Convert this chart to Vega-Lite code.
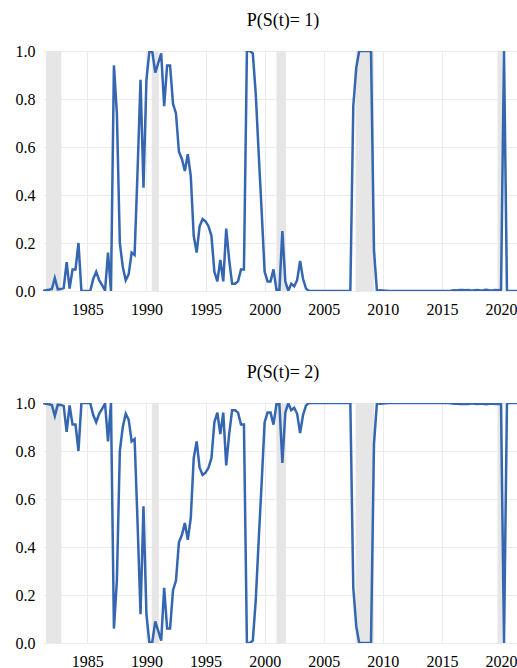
{
  "$schema": "https://vega.github.io/schema/vega-lite/v6.json",
  "padding": {"left": 15, "top": 12, "right": 0, "bottom": 0},
  "config": {
    "font": "Liberation Serif",
    "view": {"stroke": null},
    "axis": {"labelFont": "Liberation Serif", "labelFontSize": 16, "labelColor": "#000", "domain": false, "ticks": false, "gridColor": "#ebebeb", "gridWidth": 1, "title": null, "labelPadding": 8},
    "axisX": {"labelFont": "Liberation Serif", "labelPadding": 10},
    "axisY": {"labelFont": "Liberation Serif"},
    "title": {"font": "Liberation Serif", "fontSize": 18, "fontWeight": "normal", "color": "#000", "offset": 13}
  },
  "datasets": {
    "bands": [
      {"start": 1981.5, "end": 1982.8},
      {"start": 1990.45, "end": 1991.05},
      {"start": 2001.0, "end": 2001.8},
      {"start": 2007.7, "end": 2009.25},
      {"start": 2019.7, "end": 2020.1}
    ],
    "probs": [
      {"t": 1981.25, "p1": 0.0, "p2": 1.0},
      {"t": 1981.5, "p1": 0.003, "p2": 0.997},
      {"t": 1981.75, "p1": 0.005, "p2": 0.995},
      {"t": 1982.0, "p1": 0.008, "p2": 0.992},
      {"t": 1982.25, "p1": 0.054, "p2": 0.946},
      {"t": 1982.5, "p1": 0.007, "p2": 0.993},
      {"t": 1982.75, "p1": 0.008, "p2": 0.992},
      {"t": 1983.0, "p1": 0.012, "p2": 0.988},
      {"t": 1983.25, "p1": 0.12, "p2": 0.88},
      {"t": 1983.5, "p1": 0.01, "p2": 0.99},
      {"t": 1983.75, "p1": 0.09, "p2": 0.91},
      {"t": 1984.0, "p1": 0.09, "p2": 0.91},
      {"t": 1984.25, "p1": 0.2, "p2": 0.8},
      {"t": 1984.5, "p1": 0.0, "p2": 1.0},
      {"t": 1984.75, "p1": 0.0, "p2": 1.0},
      {"t": 1985.0, "p1": 0.0, "p2": 1.0},
      {"t": 1985.25, "p1": 0.001, "p2": 0.999},
      {"t": 1985.5, "p1": 0.05, "p2": 0.95},
      {"t": 1985.75, "p1": 0.08, "p2": 0.92},
      {"t": 1986.0, "p1": 0.045, "p2": 0.955},
      {"t": 1986.25, "p1": 0.025, "p2": 0.975},
      {"t": 1986.5, "p1": 0.002, "p2": 0.998},
      {"t": 1986.75, "p1": 0.16, "p2": 0.84},
      {"t": 1987.0, "p1": 0.0, "p2": 1.0},
      {"t": 1987.25, "p1": 0.94, "p2": 0.06},
      {"t": 1987.5, "p1": 0.74, "p2": 0.26},
      {"t": 1987.75, "p1": 0.2, "p2": 0.8},
      {"t": 1988.0, "p1": 0.1, "p2": 0.9},
      {"t": 1988.25, "p1": 0.045, "p2": 0.955},
      {"t": 1988.5, "p1": 0.07, "p2": 0.93},
      {"t": 1988.75, "p1": 0.16, "p2": 0.84},
      {"t": 1989.0, "p1": 0.15, "p2": 0.85},
      {"t": 1989.25, "p1": 0.5, "p2": 0.5},
      {"t": 1989.5, "p1": 0.88, "p2": 0.12},
      {"t": 1989.75, "p1": 0.43, "p2": 0.57},
      {"t": 1990.0, "p1": 0.88, "p2": 0.12},
      {"t": 1990.25, "p1": 1.0, "p2": 0.0},
      {"t": 1990.5, "p1": 0.995, "p2": 0.005},
      {"t": 1990.75, "p1": 0.91, "p2": 0.09},
      {"t": 1991.0, "p1": 0.95, "p2": 0.05},
      {"t": 1991.25, "p1": 0.99, "p2": 0.01},
      {"t": 1991.5, "p1": 0.77, "p2": 0.23},
      {"t": 1991.75, "p1": 0.94, "p2": 0.06},
      {"t": 1992.0, "p1": 0.94, "p2": 0.06},
      {"t": 1992.25, "p1": 0.78, "p2": 0.22},
      {"t": 1992.5, "p1": 0.74, "p2": 0.26},
      {"t": 1992.75, "p1": 0.58, "p2": 0.42},
      {"t": 1993.0, "p1": 0.55, "p2": 0.45},
      {"t": 1993.25, "p1": 0.5, "p2": 0.5},
      {"t": 1993.5, "p1": 0.57, "p2": 0.43},
      {"t": 1993.75, "p1": 0.48, "p2": 0.52},
      {"t": 1994.0, "p1": 0.23, "p2": 0.77},
      {"t": 1994.25, "p1": 0.16, "p2": 0.84},
      {"t": 1994.5, "p1": 0.27, "p2": 0.73},
      {"t": 1994.75, "p1": 0.3, "p2": 0.7},
      {"t": 1995.0, "p1": 0.29, "p2": 0.71},
      {"t": 1995.25, "p1": 0.27, "p2": 0.73},
      {"t": 1995.5, "p1": 0.23, "p2": 0.77},
      {"t": 1995.75, "p1": 0.08, "p2": 0.92},
      {"t": 1996.0, "p1": 0.04, "p2": 0.96},
      {"t": 1996.25, "p1": 0.13, "p2": 0.87},
      {"t": 1996.5, "p1": 0.04, "p2": 0.96},
      {"t": 1996.75, "p1": 0.26, "p2": 0.74},
      {"t": 1997.0, "p1": 0.13, "p2": 0.87},
      {"t": 1997.25, "p1": 0.03, "p2": 0.97},
      {"t": 1997.5, "p1": 0.03, "p2": 0.97},
      {"t": 1997.75, "p1": 0.04, "p2": 0.96},
      {"t": 1998.0, "p1": 0.09, "p2": 0.91},
      {"t": 1998.25, "p1": 0.09, "p2": 0.91},
      {"t": 1998.5, "p1": 1.0, "p2": 0.0},
      {"t": 1998.75, "p1": 1.0, "p2": 0.0},
      {"t": 1999.0, "p1": 0.99, "p2": 0.01},
      {"t": 1999.25, "p1": 0.82, "p2": 0.18},
      {"t": 1999.5, "p1": 0.57, "p2": 0.43},
      {"t": 1999.75, "p1": 0.33, "p2": 0.67},
      {"t": 2000.0, "p1": 0.08, "p2": 0.92},
      {"t": 2000.25, "p1": 0.04, "p2": 0.96},
      {"t": 2000.5, "p1": 0.04, "p2": 0.96},
      {"t": 2000.75, "p1": 0.09, "p2": 0.91},
      {"t": 2001.0, "p1": 0.005, "p2": 0.995},
      {"t": 2001.25, "p1": 0.005, "p2": 0.995},
      {"t": 2001.5, "p1": 0.25, "p2": 0.75},
      {"t": 2001.75, "p1": 0.04, "p2": 0.96},
      {"t": 2002.0, "p1": 0.0, "p2": 1.0},
      {"t": 2002.25, "p1": 0.03, "p2": 0.97},
      {"t": 2002.5, "p1": 0.02, "p2": 0.98},
      {"t": 2002.75, "p1": 0.045, "p2": 0.955},
      {"t": 2003.0, "p1": 0.125, "p2": 0.875},
      {"t": 2003.25, "p1": 0.05, "p2": 0.95},
      {"t": 2003.5, "p1": 0.01, "p2": 0.99},
      {"t": 2003.75, "p1": 0.0, "p2": 1.0},
      {"t": 2004.0, "p1": 0.0, "p2": 1.0},
      {"t": 2004.25, "p1": 0.0, "p2": 1.0},
      {"t": 2004.5, "p1": 0.0, "p2": 1.0},
      {"t": 2004.75, "p1": 0.0, "p2": 1.0},
      {"t": 2005.0, "p1": 0.0, "p2": 1.0},
      {"t": 2005.25, "p1": 0.0, "p2": 1.0},
      {"t": 2005.5, "p1": 0.0, "p2": 1.0},
      {"t": 2005.75, "p1": 0.0, "p2": 1.0},
      {"t": 2006.0, "p1": 0.0, "p2": 1.0},
      {"t": 2006.25, "p1": 0.0, "p2": 1.0},
      {"t": 2006.5, "p1": 0.0, "p2": 1.0},
      {"t": 2006.75, "p1": 0.0, "p2": 1.0},
      {"t": 2007.0, "p1": 0.0, "p2": 1.0},
      {"t": 2007.25, "p1": 0.0, "p2": 1.0},
      {"t": 2007.5, "p1": 0.77, "p2": 0.23},
      {"t": 2007.75, "p1": 0.93, "p2": 0.07},
      {"t": 2008.0, "p1": 1.0, "p2": 0.0},
      {"t": 2008.25, "p1": 1.0, "p2": 0.0},
      {"t": 2008.5, "p1": 1.0, "p2": 0.0},
      {"t": 2008.75, "p1": 1.0, "p2": 0.0},
      {"t": 2009.0, "p1": 1.0, "p2": 0.0},
      {"t": 2009.25, "p1": 0.17, "p2": 0.83},
      {"t": 2009.5, "p1": 0.0, "p2": 1.0},
      {"t": 2009.75, "p1": 0.003, "p2": 0.997},
      {"t": 2010.0, "p1": 0.002, "p2": 0.998},
      {"t": 2010.25, "p1": 0.001, "p2": 0.999},
      {"t": 2010.5, "p1": 0.0, "p2": 1.0},
      {"t": 2010.75, "p1": 0.0, "p2": 1.0},
      {"t": 2011.0, "p1": 0.0, "p2": 1.0},
      {"t": 2011.25, "p1": 0.0, "p2": 1.0},
      {"t": 2011.5, "p1": 0.0, "p2": 1.0},
      {"t": 2011.75, "p1": 0.0, "p2": 1.0},
      {"t": 2012.0, "p1": 0.0, "p2": 1.0},
      {"t": 2012.25, "p1": 0.0, "p2": 1.0},
      {"t": 2012.5, "p1": 0.0, "p2": 1.0},
      {"t": 2012.75, "p1": 0.0, "p2": 1.0},
      {"t": 2013.0, "p1": 0.0, "p2": 1.0},
      {"t": 2013.25, "p1": 0.0, "p2": 1.0},
      {"t": 2013.5, "p1": 0.0, "p2": 1.0},
      {"t": 2013.75, "p1": 0.0, "p2": 1.0},
      {"t": 2014.0, "p1": 0.0, "p2": 1.0},
      {"t": 2014.25, "p1": 0.0, "p2": 1.0},
      {"t": 2014.5, "p1": 0.0, "p2": 1.0},
      {"t": 2014.75, "p1": 0.0, "p2": 1.0},
      {"t": 2015.0, "p1": 0.0, "p2": 1.0},
      {"t": 2015.25, "p1": 0.0, "p2": 1.0},
      {"t": 2015.5, "p1": 0.0, "p2": 1.0},
      {"t": 2015.75, "p1": 0.001, "p2": 0.999},
      {"t": 2016.0, "p1": 0.003, "p2": 0.997},
      {"t": 2016.25, "p1": 0.002, "p2": 0.998},
      {"t": 2016.5, "p1": 0.004, "p2": 0.996},
      {"t": 2016.75, "p1": 0.004, "p2": 0.996},
      {"t": 2017.0, "p1": 0.003, "p2": 0.997},
      {"t": 2017.25, "p1": 0.004, "p2": 0.996},
      {"t": 2017.5, "p1": 0.001, "p2": 0.999},
      {"t": 2017.75, "p1": 0.003, "p2": 0.997},
      {"t": 2018.0, "p1": 0.004, "p2": 0.996},
      {"t": 2018.25, "p1": 0.002, "p2": 0.998},
      {"t": 2018.5, "p1": 0.003, "p2": 0.997},
      {"t": 2018.75, "p1": 0.005, "p2": 0.995},
      {"t": 2019.0, "p1": 0.003, "p2": 0.997},
      {"t": 2019.25, "p1": 0.002, "p2": 0.998},
      {"t": 2019.5, "p1": 0.004, "p2": 0.996},
      {"t": 2019.75, "p1": 0.003, "p2": 0.997},
      {"t": 2020.0, "p1": 0.005, "p2": 0.995},
      {"t": 2020.25, "p1": 1.0, "p2": 0.0},
      {"t": 2020.5, "p1": 0.0, "p2": 1.0},
      {"t": 2020.75, "p1": 0.0, "p2": 1.0},
      {"t": 2021.0, "p1": 0.0, "p2": 1.0},
      {"t": 2021.25, "p1": 0.0, "p2": 1.0},
      {"t": 2021.5, "p1": 0.0, "p2": 1.0}
    ]
  },
  "spacing": 47,
  "vconcat": [
    {
      "width": 474,
      "height": 240,
      "title": {"text": "P(S(t)= 1)", "dx": 3},
      "layer": [
        {
          "data": {"name": "bands"},
          "mark": {"type": "rect", "color": "#e6e6e6"},
          "encoding": {
            "x": {"field": "start", "type": "quantitative", "scale": {"domain": [1981.25, 2021.35], "nice": false, "zero": false}, "axis": {"values": [1985, 1990, 1995, 2000, 2005, 2010, 2015, 2020], "format": "d", "grid": true, "labelFont": "Liberation Serif"}},
            "x2": {"field": "end"}
          }
        },
        {
          "data": {"name": "probs"},
          "mark": {"type": "line", "color": "#3566b0", "strokeWidth": 2.5, "clip": true},
          "encoding": {
            "x": {"field": "t", "type": "quantitative"},
            "y": {"field": "p1", "type": "quantitative", "scale": {"domain": [0, 1], "nice": false}, "axis": {"values": [0, 0.2, 0.4, 0.6, 0.8, 1.0], "format": ".1f", "grid": true, "labelFont": "Liberation Serif"}}
          }
        }
      ]
    },
    {
      "width": 474,
      "height": 240,
      "title": {"text": "P(S(t)= 2)", "dx": 3},
      "layer": [
        {
          "data": {"name": "bands"},
          "mark": {"type": "rect", "color": "#e6e6e6"},
          "encoding": {
            "x": {"field": "start", "type": "quantitative", "scale": {"domain": [1981.25, 2021.35], "nice": false, "zero": false}, "axis": {"values": [1985, 1990, 1995, 2000, 2005, 2010, 2015, 2020], "format": "d", "grid": true, "labelFont": "Liberation Serif"}},
            "x2": {"field": "end"}
          }
        },
        {
          "data": {"name": "probs"},
          "mark": {"type": "line", "color": "#3566b0", "strokeWidth": 2.5, "clip": true},
          "encoding": {
            "x": {"field": "t", "type": "quantitative"},
            "y": {"field": "p2", "type": "quantitative", "scale": {"domain": [0, 1], "nice": false}, "axis": {"values": [0, 0.2, 0.4, 0.6, 0.8, 1.0], "format": ".1f", "grid": true, "labelFont": "Liberation Serif"}}
          }
        }
      ]
    }
  ]
}
